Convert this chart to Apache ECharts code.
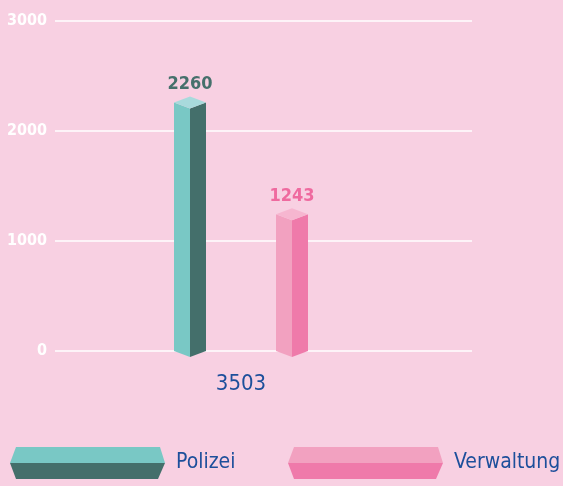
<!DOCTYPE html>
<html><head><meta charset="utf-8">
<script src="https://cdn.jsdelivr.net/npm/echarts@6/dist/echarts.min.js"></script>
<style>html,body{margin:0;padding:0;background:#f8d0e2;}#c{width:563px;height:486px;}</style>
</head><body><div id="c"></div>
<script>
const categories = ['3503'];
const seriesNames = ['Polizei', 'Verwaltung'];
const polizeiValues = [2260];
const verwaltungValues = [1243];
const yTicks = [0, 1000, 2000, 3000];

const FONT = "'DejaVu Sans Condensed',Roboto,sans-serif";
const palettes = [
  {left:'#79c8c5', right:'#446f6b', top:'#a8dadc', label:'#46706c'},
  {left:'#f2a1c0', right:'#ef7aaa', top:'#f6b6d0', label:'#ef6a9f'}
];
const offsets = [-73.5, 28.5];
const half = 16, dip = 6;

function makeRender(idx){
  const p = palettes[idx];
  return function(params, api){
    const v = api.value(1);
    const top = api.coord([api.value(0), v]);
    const base = api.coord([api.value(0), 0]);
    const cx = top[0] + offsets[idx];
    const yt = top[1], y0 = base[1];
    return {type:'group', children:[
      {type:'polygon', shape:{points:[[cx-half,yt],[cx,yt+dip],[cx,y0+dip],[cx-half,y0]]}, style:{fill:p.left}},
      {type:'polygon', shape:{points:[[cx,yt+dip],[cx+half,yt],[cx+half,y0],[cx,y0+dip]]}, style:{fill:p.right}},
      {type:'polygon', shape:{points:[[cx-half,yt],[cx,yt-dip],[cx+half,yt],[cx,yt+dip]]}, style:{fill:p.top}},
      {type:'text', style:{text:String(v), x:cx, y:yt-dip-3, align:'center', verticalAlign:'bottom',
        fill:p.label, font:'bold 18px ' + FONT}}
    ]};
  };
}
function grad(p){
  return new echarts.graphic.LinearGradient(0,0,0,1,[
    {offset:0,color:p.left},{offset:0.5,color:p.left},{offset:0.5,color:p.right},{offset:1,color:p.right}]);
}
const legendIcon = 'path://M0,16 L6,0 L150,0 L155,16 L148,32 L6,32 Z';
const legendBase = {bottom:2, itemWidth:155, itemHeight:32, icon:legendIcon, orient:'horizontal',
  textStyle:{color:'#1d4f9b', fontSize:21, fontFamily:FONT, padding:[12,0,0,6]}};

const chart = echarts.init(document.getElementById('c'));
chart.setOption({
  backgroundColor:'#f8d0e2',
  animation:false,
  grid:{left:55, right:91, top:21, bottom:135},
  xAxis:{type:'category', data:categories,
    axisLine:{show:false}, axisTick:{show:false},
    axisLabel:{color:'#1d4f9b', fontSize:22, fontFamily:FONT, margin:22, padding:[0,45,0,0]}},
  yAxis:{type:'value', min:yTicks[0], max:yTicks[yTicks.length-1], interval:1000,
    axisLine:{show:false}, axisTick:{show:false},
    axisLabel:{color:'#ffffff', fontSize:16, fontWeight:'bold', fontFamily:FONT, margin:8,
      formatter:function(v){return String(v);}},
    splitLine:{lineStyle:{color:'#ffffff', width:1.5}}},
  legend:[
    Object.assign({}, legendBase, {left:5, data:[seriesNames[0]]}),
    Object.assign({}, legendBase, {left:283, data:[seriesNames[1]]})
  ],
  series:[
    {name:seriesNames[0], type:'custom', itemStyle:{color:grad(palettes[0])},
      renderItem:makeRender(0), data:categories.map((c,i)=>[i, polizeiValues[i]])},
    {name:seriesNames[1], type:'custom', itemStyle:{color:grad(palettes[1])},
      renderItem:makeRender(1), data:categories.map((c,i)=>[i, verwaltungValues[i]])}
  ]
});
</script></body></html>
